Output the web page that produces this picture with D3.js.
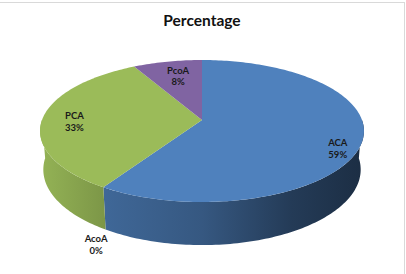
<!DOCTYPE html>
<html>
<head>
<meta charset="utf-8">
<script src="https://cdn.jsdelivr.net/npm/d3@7"></script>
<style>
body { margin: 0; background: #fff; }
svg { display: block; }
</style>
</head>
<body>
<div id="chart"></div>
<script>
// Data
var names = ["ACA", "AcoA", "PCA", "PcoA"];
var values = [59, 0, 33, 8];
var pctLabels = ["59%", "0%", "33%", "8%"];
var topColors = ["#4f81bd", "#c0504d", "#9bbb59", "#8064a2"];

// SVG Size
var width = 406,
	height = 274;

// 3d pie geometry (perspective view of a tilted disc)
var cx = 202, cy = 120, K = 160;
var D = 5.81, sa = 0.433, ca = 0.901, depth = 0.27;

var proj = function(theta, r, h) {
	var X = r * Math.sin(theta), Z = -r * Math.cos(theta);
	var yc = Z * sa + h * ca;
	var zc = D - Z * ca + h * sa;
	return [cx + K * D * X / zc, cy + K * D * yc / zc];
};

// label placement tweaks (radius, depth, dx, dy)
var labelPlace = {
	"ACA":  [0.86, 0.14, 0, -10],
	"AcoA": [1.12, 0.27, 4, 4],
	"PCA":  [0.82, 0, 3, 3],
	"PcoA": [0.72, 0, 2, -1]
};

var svg = d3.select("#chart").append("svg")
	.attr("width", width)
	.attr("height", height);

// chart border (only top and right are visible)
svg.append("rect")
	.attr("x", -5).attr("y", 2.5)
	.attr("width", 409.5).attr("height", 290)
	.attr("fill", "none")
	.attr("stroke", "#d9d9d9");

// side shading: darker toward the right
var shade = [[0, 0.95], [0.2, 0.8], [0.5, 0.68], [0.78, 0.46], [1, 0.36]];
var defs = svg.append("defs");
topColors.forEach(function(c, i) {
	var g = defs.append("linearGradient")
		.attr("id", "side" + i)
		.attr("gradientUnits", "userSpaceOnUse")
		.attr("x1", cx - K).attr("x2", cx + K)
		.attr("y1", 0).attr("y2", 0);
	shade.forEach(function(s) {
		var col = d3.rgb(c);
		g.append("stop")
			.attr("offset", s[0])
			.attr("stop-color", d3.rgb(col.r * s[1], col.g * s[1], col.b * s[1]).formatHex());
	});
});

var pie = d3.pie().sort(null).value(function(d) { return d; });
var arcs = pie(values);

var line = d3.line();

var samples = function(a0, a1) {
	var n = Math.max(2, Math.ceil((a1 - a0) / 0.02));
	return d3.range(n + 1).map(function(k) { return a0 + (a1 - a0) * k / n; });
};

// side walls (front half only)
arcs.forEach(function(a, i) {
	var a0 = Math.max(a.startAngle, Math.PI / 2),
		a1 = Math.min(a.endAngle, 3 * Math.PI / 2);
	if (a1 <= a0) return;
	var angs = samples(a0, a1);
	var pts = angs.map(function(t) { return proj(t, 1, 0); })
		.concat(angs.slice().reverse().map(function(t) { return proj(t, 1, depth); }));
	svg.append("path")
		.attr("d", line(pts) + "Z")
		.attr("fill", "url(#side" + i + ")");
});

// top faces
arcs.forEach(function(a, i) {
	if (a.endAngle - a.startAngle <= 0) return;
	var pts = [proj(0, 0, 0)].concat(samples(a.startAngle, a.endAngle).map(function(t) { return proj(t, 1, 0); }));
	svg.append("path")
		.attr("d", line(pts) + "Z")
		.attr("fill", topColors[i]);
});

// labels
arcs.forEach(function(a, i) {
	var lp = labelPlace[names[i]];
	var mid = (a.startAngle + a.endAngle) / 2;
	var p = proj(mid, lp[0], lp[1]);
	var t = svg.append("text")
		.attr("x", p[0] + lp[2])
		.attr("y", p[1] + lp[3])
		.attr("text-anchor", "middle")
		.attr("font-family", "Lato, 'Open Sans', sans-serif")
		.attr("font-weight", "bold")
		.attr("font-size", "9.5px")
		.attr("fill", "#1a1a1a");
	t.append("tspan").attr("x", p[0] + lp[2]).attr("dy", "-0.2em").text(names[i]);
	t.append("tspan").attr("x", p[0] + lp[2]).attr("dy", "1.25em").text(pctLabels[i]);
});

// title
svg.append("text")
	.attr("x", 202)
	.attr("y", 26)
	.attr("text-anchor", "middle")
	.attr("font-family", "Lato, 'Open Sans', sans-serif")
	.attr("font-weight", "bold")
	.attr("font-size", "15.5px")
	.attr("fill", "#111")
	.text("Percentage");
</script>
</body>
</html>
